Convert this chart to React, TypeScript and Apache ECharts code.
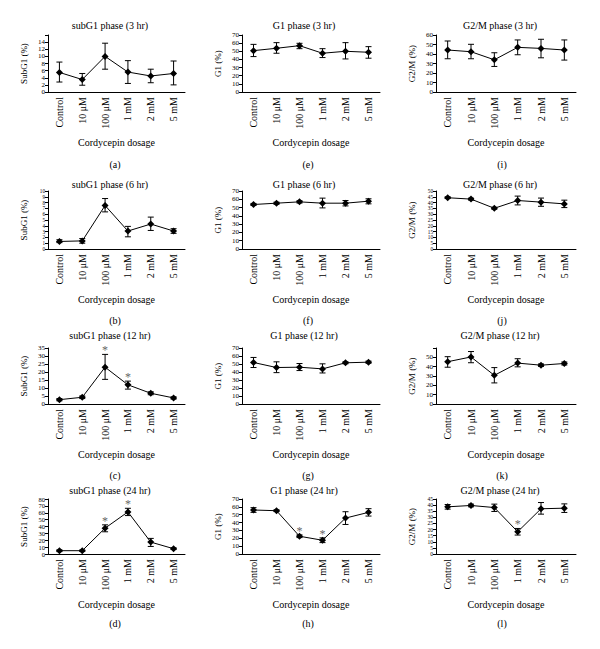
import React, { useEffect, useRef } from "react";
import * as echarts from "echarts";

const categories = ["Control", "10 μM", "100 μM", "1 mM", "2 mM", "5 mM"];
const xAxisName = "Cordycepin dosage";

// subG1
const subG1_3hr = [5.5, 3.5, 10.0, 5.6, 4.5, 5.2];
const subG1_3hr_lo = [2.8, 1.9, 6.4, 2.4, 2.6, 2.0];
const subG1_3hr_hi = [8.4, 5.2, 13.7, 8.8, 6.4, 8.7];
const subG1_6hr = [1.3, 1.4, 7.5, 3.1, 4.3, 3.1];
const subG1_6hr_lo = [1.1, 1.0, 6.4, 2.1, 3.2, 2.7];
const subG1_6hr_hi = [1.6, 1.8, 8.7, 3.9, 5.5, 3.5];
const subG1_12hr = [2.7, 4.2, 23.0, 12.0, 6.7, 3.8];
const subG1_12hr_lo = [2.0, 3.4, 15.4, 9.3, 5.8, 3.1];
const subG1_12hr_hi = [3.4, 5.0, 31.0, 14.3, 7.6, 4.5];
const subG1_24hr = [4.8, 4.8, 37.6, 61.2, 17.3, 7.7];
const subG1_24hr_lo = [3.5, 3.8, 32.3, 55.9, 11.0, 6.5];
const subG1_24hr_hi = [6.0, 5.8, 42.4, 66.5, 22.7, 9.0];

// G1
const G1_3hr = [50.8, 53.7, 56.9, 47.6, 50.0, 48.8];
const G1_3hr_lo = [43.5, 47.6, 53.2, 42.3, 40.6, 41.5];
const G1_3hr_hi = [58.5, 60.6, 59.8, 53.2, 60.6, 55.7];
const G1_6hr = [53.7, 55.3, 56.9, 55.3, 55.3, 57.7];
const G1_6hr_lo = [52.5, 54.0, 55.5, 49.6, 52.0, 54.5];
const G1_6hr_hi = [55.0, 56.5, 58.2, 61.4, 58.5, 60.6];
const G1_12hr = [51.9, 45.6, 46.0, 43.9, 51.5, 52.3];
const G1_12hr_lo = [45.6, 39.2, 41.8, 38.8, 50.3, 51.0];
const G1_12hr_hi = [58.2, 52.7, 50.6, 50.2, 52.7, 53.6];
const G1_24hr = [56.0, 55.1, 22.6, 17.5, 45.7, 53.0];
const G1_24hr_lo = [53.0, 54.0, 20.9, 14.5, 37.6, 48.3];
const G1_24hr_hi = [59.0, 56.2, 24.3, 20.5, 53.8, 57.7];

// G2/M
const G2M_3hr = [44.2, 42.4, 33.9, 47.0, 45.9, 44.2];
const G2M_3hr_lo = [35.0, 35.0, 26.9, 39.2, 36.0, 33.6];
const G2M_3hr_hi = [53.7, 50.2, 41.3, 54.8, 55.5, 54.8];
const G2M_6hr = [44.2, 43.0, 35.1, 41.8, 40.4, 38.9];
const G2M_6hr_lo = [43.5, 42.2, 34.3, 38.0, 36.8, 35.7];
const G2M_6hr_hi = [45.0, 43.8, 36.0, 45.6, 43.9, 42.1];
const G2M_12hr = [45.3, 50.4, 30.7, 43.8, 41.6, 43.4];
const G2M_12hr_lo = [39.4, 44.2, 22.6, 39.8, 40.3, 41.8];
const G2M_12hr_hi = [50.7, 56.2, 39.0, 48.5, 42.9, 45.0];
const G2M_24hr = [38.6, 39.7, 38.0, 18.2, 37.0, 37.5];
const G2M_24hr_lo = [36.7, 38.6, 34.8, 15.5, 32.6, 34.0];
const G2M_24hr_hi = [40.5, 40.8, 40.8, 20.9, 42.1, 41.0];

// significance markers (category indices)
const stars_subG1_12hr = [2, 3];
const stars_subG1_24hr = [2, 3];
const stars_G1_24hr = [2, 3];
const stars_G2M_24hr = [3];

const FONT = "'Liberation Serif', 'DejaVu Serif', serif";

type Panel = {
  title: string; yName: string; label: string;
  mean: number[]; lo: number[]; hi: number[];
  max: number; interval: number; hideMax?: boolean; stars?: number[];
  col: number; row: number; tickFont: number;
};

const panels: Panel[] = [
  { title: "subG1 phase (3 hr)", yName: "SubG1 (%)", label: "(a)", mean: subG1_3hr, lo: subG1_3hr_lo, hi: subG1_3hr_hi, max: 16, interval: 2, hideMax: true, col: 0, row: 0, tickFont: 7 },
  { title: "subG1 phase (6 hr)", yName: "SubG1 (%)", label: "(b)", mean: subG1_6hr, lo: subG1_6hr_lo, hi: subG1_6hr_hi, max: 10, interval: 1, col: 0, row: 1, tickFont: 5.2 },
  { title: "subG1 phase (12 hr)", yName: "SubG1 (%)", label: "(c)", mean: subG1_12hr, lo: subG1_12hr_lo, hi: subG1_12hr_hi, max: 35, interval: 5, stars: stars_subG1_12hr, col: 0, row: 2, tickFont: 7 },
  { title: "subG1 phase (24 hr)", yName: "SubG1 (%)", label: "(d)", mean: subG1_24hr, lo: subG1_24hr_lo, hi: subG1_24hr_hi, max: 80, interval: 10, stars: stars_subG1_24hr, col: 0, row: 3, tickFont: 6.5 },
  { title: "G1 phase (3 hr)", yName: "G1 (%)", label: "(e)", mean: G1_3hr, lo: G1_3hr_lo, hi: G1_3hr_hi, max: 70, interval: 10, col: 1, row: 0, tickFont: 7 },
  { title: "G1 phase (6 hr)", yName: "G1 (%)", label: "(f)", mean: G1_6hr, lo: G1_6hr_lo, hi: G1_6hr_hi, max: 70, interval: 10, col: 1, row: 1, tickFont: 7 },
  { title: "G1 phase (12 hr)", yName: "G1 (%)", label: "(g)", mean: G1_12hr, lo: G1_12hr_lo, hi: G1_12hr_hi, max: 70, interval: 10, col: 1, row: 2, tickFont: 7 },
  { title: "G1 phase (24 hr)", yName: "G1 (%)", label: "(h)", mean: G1_24hr, lo: G1_24hr_lo, hi: G1_24hr_hi, max: 70, interval: 10, stars: stars_G1_24hr, col: 1, row: 3, tickFont: 7 },
  { title: "G2/M phase (3 hr)", yName: "G2/M (%)", label: "(i)", mean: G2M_3hr, lo: G2M_3hr_lo, hi: G2M_3hr_hi, max: 60, interval: 10, col: 2, row: 0, tickFont: 7 },
  { title: "G2/M phase (6 hr)", yName: "G2/M (%)", label: "(j)", mean: G2M_6hr, lo: G2M_6hr_lo, hi: G2M_6hr_hi, max: 50, interval: 5, col: 2, row: 1, tickFont: 5.2 },
  { title: "G2/M phase (12 hr)", yName: "G2/M (%)", label: "(k)", mean: G2M_12hr, lo: G2M_12hr_lo, hi: G2M_12hr_hi, max: 60, interval: 10, hideMax: true, col: 2, row: 2, tickFont: 7 },
  { title: "G2/M phase (24 hr)", yName: "G2/M (%)", label: "(l)", mean: G2M_24hr, lo: G2M_24hr_lo, hi: G2M_24hr_hi, max: 45, interval: 5, stars: stars_G2M_24hr, col: 2, row: 3, tickFont: 5.5 },
];

const colLeft = [48, 242, 436];
const colWidth = [137, 138, 140];
const rowTop = [35, 191, 348, 499];
const rowHeight = [57, 58, 56, 55];
const titleX = [110, 304, 500];
const titleY = [25, 184, 335, 490];
const labelX = [115, 308, 502];
const labelY = [164, 320, 475, 623];

export default function App() {
  const ref = useRef<HTMLDivElement>(null);
  useEffect(() => {
    if (!ref.current) return;
    const chart = echarts.init(ref.current, undefined, { renderer: "svg" });
    const grid: any[] = [];
    const xAxis: any[] = [];
    const yAxis: any[] = [];
    const series: any[] = [];
    const graphic: any[] = [];
    panels.forEach((p, i) => {
      grid.push({ left: colLeft[p.col], top: rowTop[p.row], width: colWidth[p.col], height: rowHeight[p.row] });
      xAxis.push({
        type: "category", gridIndex: i, data: categories, boundaryGap: true,
        axisLine: { lineStyle: { color: "#000", width: 1 } },
        axisTick: { inside: true, length: 3, lineStyle: { color: "#000" } },
        axisLabel: { rotate: 90, interval: 0, fontSize: 10, fontFamily: FONT, color: "#000", margin: 5 },
        name: xAxisName, nameLocation: "middle", nameGap: 45,
        nameTextStyle: { fontSize: 10, fontFamily: FONT, color: "#000" },
        splitLine: { show: false },
      });
      yAxis.push({
        type: "value", gridIndex: i, min: 0, max: p.max, interval: p.interval,
        axisLine: { show: true, lineStyle: { color: "#000", width: 1 } },
        axisTick: { show: true, length: 3, lineStyle: { color: "#000" } },
        splitLine: { show: false },
        axisLabel: {
          fontSize: p.tickFont, fontFamily: FONT, color: "#000", margin: 3, hideOverlap: false,
          formatter: (v: number) => (p.hideMax && v === p.max ? "" : String(v)),
        },
        name: p.yName, nameLocation: "middle", nameGap: 20, nameRotate: 90,
        nameTextStyle: { fontSize: 9, fontFamily: FONT, color: "#000" },
      });
      series.push({
        type: "custom", xAxisIndex: i, yAxisIndex: i,
        data: p.mean.map((_, k) => [k, p.lo[k], p.hi[k]]),
        renderItem: (params: any, api: any) => {
          const a = api.coord([api.value(0), api.value(1)]);
          const b = api.coord([api.value(0), api.value(2)]);
          const st = { stroke: "#000", lineWidth: 1 };
          return {
            type: "group",
            children: [
              { type: "line", shape: { x1: a[0], y1: a[1], x2: b[0], y2: b[1] }, style: st },
              { type: "line", shape: { x1: a[0] - 3, y1: a[1], x2: a[0] + 3, y2: a[1] }, style: st },
              { type: "line", shape: { x1: b[0] - 3, y1: b[1], x2: b[0] + 3, y2: b[1] }, style: st },
            ],
          };
        },
        z: 1,
      });
      series.push({
        type: "line", xAxisIndex: i, yAxisIndex: i, data: p.mean,
        symbol: "diamond", symbolSize: 7,
        itemStyle: { color: "#000" }, lineStyle: { color: "#000", width: 1 }, z: 2,
      });
      if (p.stars && p.stars.length) {
        series.push({
          type: "custom", xAxisIndex: i, yAxisIndex: i,
          data: p.stars.map((k) => [k, p.hi[k]]),
          renderItem: (params: any, api: any) => {
            const c = api.coord([api.value(0), api.value(1)]);
            return {
              type: "text",
              style: { x: c[0], y: c[1] - 10, text: "*", fill: "#666", font: `12px ${FONT}`, textAlign: "center", textVerticalAlign: "top" },
            };
          },
          z: 3,
        });
      }
      graphic.push({
        type: "text", x: titleX[p.col], y: titleY[p.row],
        style: { text: p.title, fill: "#000", font: `10px ${FONT}`, textAlign: "center", textVerticalAlign: "middle" },
      });
      graphic.push({
        type: "text", x: labelX[p.col], y: labelY[p.row],
        style: { text: p.label, fill: "#000", font: `10px ${FONT}`, textAlign: "center", textVerticalAlign: "middle" },
      });
    });
    chart.setOption({
      animation: false,
      backgroundColor: "#fff",
      grid, xAxis, yAxis, series, graphic,
    });
    return () => chart.dispose();
  }, []);
  return <div ref={ref} style={{ position: "fixed", left: 0, top: 0, width: 600, height: 649 }} />;
}
